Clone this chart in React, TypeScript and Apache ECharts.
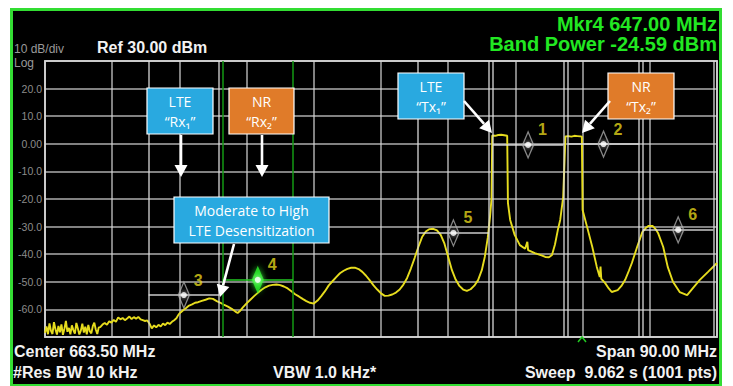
import React, { useEffect, useRef } from 'react';
import * as echarts from 'echarts';

const FREQ_START_MHZ = 618.5;
const FREQ_STOP_MHZ = 708.5;
const REF_LEVEL_DBM = 30;
const BOTTOM_LEVEL_DBM = -70;
const DB_PER_DIV = 10;
const X_DIVS = 10;

// Trace: [frequency MHz, level dBm]
const TRACE: [number, number][] = [
  [618.5, -68.5], [618.7, -66.2], [618.9, -69.0], [619.1, -65.1], [619.3, -67.8], [619.5, -68.9],
  [619.7, -64.6], [619.9, -67.2], [620.1, -69.1], [620.3, -66.0], [620.5, -68.3], [620.7, -65.4],
  [620.9, -69.2], [621.1, -67.0], [621.3, -64.2], [621.5, -68.1], [621.7, -66.7], [621.9, -69.0],
  [622.1, -65.8], [622.3, -67.5], [622.5, -68.8], [622.7, -64.9], [622.9, -66.9], [623.1, -69.1],
  [623.3, -67.7], [623.5, -65.2], [623.7, -68.4], [623.9, -66.3], [624.1, -69.0], [624.3, -65.6],
  [624.5, -67.9], [624.7, -68.7], [624.9, -66.1], [625.1, -64.8], [625.3, -67.3], [625.5, -68.9],
  [625.7, -66.5], [625.9, -66.4], [626.2, -65.5], [626.5, -64.9], [626.8, -65.6], [627.1, -64.3],
  [627.4, -64.8], [627.7, -63.8], [628.0, -64.5], [628.3, -62.9], [628.6, -63.6], [628.9, -63.1],
  [629.2, -63.9], [629.5, -63.3], [629.8, -62.6], [630.1, -63.5], [630.4, -62.8], [630.7, -63.4],
  [631.0, -62.7], [631.3, -63.6], [631.6, -63.9], [631.9, -64.2], [632.2, -64.0], [632.5, -65.2],
  [632.8, -66.9], [633.1, -65.8], [633.4, -66.5], [633.7, -65.6], [634.0, -66.2], [634.3, -65.1],
  [634.6, -65.7], [634.9, -64.8], [635.2, -65.3], [635.5, -64.5], [635.8, -63.9], [636.1, -63.2],
  [636.4, -61.8], [636.7, -61.0], [637.0, -60.3], [637.4, -59.5], [637.8, -58.6], [638.2, -58.2],
  [638.6, -57.6], [639.0, -57.4], [639.5, -56.9], [640.0, -56.5], [640.5, -56.0], [641.0, -56.2],
  [641.5, -57.0], [642.0, -57.6], [642.5, -58.4], [643.0, -59.0], [643.5, -59.8], [644.0, -60.8],
  [644.3, -61.3], [644.6, -60.6], [645.0, -59.3], [645.5, -57.8], [646.0, -56.5], [646.5, -55.2],
  [647.0, -54.0], [647.5, -52.9], [648.0, -52.0], [648.5, -51.4], [649.0, -51.1], [649.5, -51.0],
  [650.0, -51.2], [650.5, -51.7], [651.0, -52.4], [651.5, -53.4], [652.0, -54.5], [652.5, -55.3],
  [653.0, -56.2], [653.5, -57.0], [654.0, -57.6], [654.5, -57.9], [655.0, -56.8], [655.5, -55.2],
  [656.0, -53.4], [656.5, -51.3], [657.0, -49.8], [657.5, -48.3], [658.0, -46.9], [658.5, -46.0],
  [659.0, -45.3], [659.5, -44.9], [660.0, -44.9], [660.5, -45.4], [661.0, -46.4], [661.5, -47.8],
  [662.0, -49.5], [662.5, -51.3], [663.0, -52.8], [663.5, -54.2], [664.0, -55.1], [664.5, -55.0],
  [665.0, -54.6], [665.5, -53.9], [666.0, -52.8], [666.5, -51.0], [667.0, -48.6], [667.5, -45.2],
  [668.0, -41.4], [668.5, -37.4], [669.0, -33.8], [669.5, -31.8], [670.0, -30.9], [670.5, -30.8],
  [671.0, -31.4], [671.5, -33.0], [672.0, -36.2], [672.5, -41.0], [673.0, -45.8], [673.5, -49.2],
  [674.0, -51.5], [674.5, -52.8], [675.0, -53.3], [675.5, -52.7], [676.0, -51.4], [676.5, -49.4],
  [677.0, -45.8], [677.4, -41.0], [677.8, -34.0], [678.1, -26.5], [678.3, -20.0], [678.4, 3.0],
  [678.8, 2.9], [679.2, 3.2], [679.6, 3.3], [680.0, 3.1], [680.4, 2.9], [680.5, -21.4],
  [680.8, -27.6], [681.4, -33.0], [682.1, -36.7], [682.8, -38.0], [683.1, -35.5], [683.2, -38.5],
  [684.1, -39.6], [685.0, -40.4], [685.5, -41.0], [686.0, -41.1], [686.4, -40.3], [686.8, -36.5],
  [687.2, -31.0], [687.5, -27.6], [687.9, -19.3], [688.2, 2.7], [688.6, 2.8], [689.0, 2.6],
  [689.4, 2.9], [689.8, 2.8], [690.2, 2.7], [690.4, 2.6], [690.5, -24.0], [691.1, -30.1],
  [691.8, -37.4], [692.4, -44.6], [692.8, -48.3], [692.9, -44.5], [693.0, -48.9], [693.5, -50.4],
  [694.0, -52.4], [694.4, -53.7], [695.2, -53.0], [695.7, -51.5], [696.2, -49.3], [696.7, -46.0],
  [697.1, -43.2], [697.8, -37.4], [698.5, -32.0], [699.0, -30.4], [699.3, -29.8], [699.9, -29.8],
  [700.3, -31.0], [700.6, -32.3], [701.3, -37.4], [701.9, -44.6], [702.6, -50.0], [703.5, -53.7],
  [704.5, -54.8], [705.3, -52.2], [706.2, -49.3], [707.3, -46.4], [708.5, -43.2]
];

const MARKER_IDS = ['1', '2', '3', '4', '5', '6'];
const MARKER_MHZ = [683.2, 693.3, 637.1, 647.0, 673.2, 703.3];
const MARKER_DBM = [-0.4, -0.1, -54.8, -49.3, -32.3, -31.2];
const ACTIVE_MARKER = '4';
const BAND_SPAN_MHZ = 9.45;

const INSTR_FONT = '"Liberation Sans Narrow", "Liberation Sans", Arial, sans-serif';
const NOTE_FONT = '"Open Sans", "Noto Sans", sans-serif';

const BLUE = '#29a9e0';
const ORANGE = '#e07b29';

function note(x: number, y: number, w: number, h: number, fill: string, lines: string[], size: number) {
  const els: any[] = [
    { type: 'rect', shape: { x, y, width: w, height: h }, style: { fill, stroke: '#ffffff', lineWidth: 1.2 }, z: 100 },
  ];
  lines.forEach((t, i) => {
    els.push({
      type: 'text', z: 101,
      style: {
        text: t, x: x + w / 2, y: y + 13 + i * 20, fill: '#ffffff',
        align: 'center', verticalAlign: 'middle', font: `${size}px ${NOTE_FONT}`,
      },
    });
  });
  return els;
}

function arrow(x1: number, y1: number, x2: number, y2: number) {
  const dx = x2 - x1, dy = y2 - y1;
  const len = Math.sqrt(dx * dx + dy * dy);
  const ux = dx / len, uy = dy / len;
  const hl = 12, hw = 6.5;
  const bx = x2 - ux * hl, by = y2 - uy * hl;
  const px = -uy * hw, py = ux * hw;
  return [
    { type: 'line', z: 100, shape: { x1, y1, x2: bx, y2: by }, style: { stroke: '#ffffff', lineWidth: 2.6 } },
    { type: 'polygon', z: 100, shape: { points: [[x2, y2], [bx + px, by + py], [bx - px, by - py]] }, style: { fill: '#ffffff' } },
  ];
}

function txt(text: string, x: number, y: number, fill: string, font: string, align = 'left') {
  return { type: 'text', z: 50, style: { text, x, y, fill, font, align, verticalAlign: 'middle' } };
}

export default function App() {
  const ref = useRef<HTMLDivElement>(null);
  useEffect(() => {
    const chart = echarts.init(ref.current!, null, { renderer: 'svg' });
    const half = BAND_SPAN_MHZ / 2;

    const vLines: any[] = [];
    const hLines: any[] = [];
    MARKER_IDS.forEach((id, i) => {
      const active = id === ACTIVE_MARKER;
      const vc = active ? '#139a13' : 'rgba(220,220,220,0.85)';
      const hc = active ? '#22c822' : 'rgba(225,225,225,0.9)';
      vLines.push({ xAxis: MARKER_MHZ[i] - half, lineStyle: { color: vc, width: 1.5, type: 'solid' } });
      vLines.push({ xAxis: MARKER_MHZ[i] + half, lineStyle: { color: vc, width: 1.5, type: 'solid' } });
      hLines.push([
        { coord: [MARKER_MHZ[i] - half, MARKER_DBM[i]], lineStyle: { color: hc, width: 1.5, type: 'solid' } },
        { coord: [MARKER_MHZ[i] + half, MARKER_DBM[i]] },
      ]);
    });

    const diamonds = MARKER_IDS.map((id, i) => {
      const active = id === ACTIVE_MARKER;
      return {
        value: [MARKER_MHZ[i], MARKER_DBM[i]],
        name: id,
        symbolSize: active ? [12, 28] : [11, 26],
        itemStyle: active
          ? { color: '#2cf52c', borderColor: '#2cf52c', borderWidth: 0, shadowBlur: 6, shadowColor: '#2cf52c' }
          : { color: 'rgba(0,0,0,0)', borderColor: '#a8a8a8', borderWidth: 1.5 },
      };
    });

    const option: any = {
      animation: false,
      backgroundColor: 'transparent',
      grid: {
        left: 45, top: 61, width: 672, height: 276, show: true,
        borderColor: '#b8b8b8', borderWidth: 2, backgroundColor: 'transparent',
      },
      xAxis: [
        { type: 'value', min: FREQ_START_MHZ, max: FREQ_STOP_MHZ, show: false, splitLine: { show: false } },
        {
          type: 'value', min: 0, max: X_DIVS, interval: 1, position: 'bottom',
          axisLine: { show: false }, axisTick: { show: false }, axisLabel: { show: false },
          splitLine: { show: true, lineStyle: { color: 'rgba(215,215,215,0.8)', width: 1.5 } },
        },
      ],
      yAxis: {
        type: 'value', min: BOTTOM_LEVEL_DBM, max: REF_LEVEL_DBM, interval: DB_PER_DIV,
        axisLine: { show: false }, axisTick: { show: false },
        splitLine: { show: true, lineStyle: { color: 'rgba(215,215,215,0.8)', width: 1.5 } },
        axisLabel: {
          color: '#8c8c8c', fontSize: 10.5, margin: 3, fontFamily: INSTR_FONT,
          formatter: (v: number) => (v === REF_LEVEL_DBM || v === BOTTOM_LEVEL_DBM ? '' : v === 0 ? '0.00' : v.toFixed(1)),
        },
      },
      series: [
        {
          type: 'line', xAxisIndex: 0, data: [], z: 2, silent: true,
          markLine: { silent: true, symbol: ['none', 'none'], label: { show: false }, data: [...vLines, ...hLines] },
        },
        {
          type: 'line', xAxisIndex: 0, data: TRACE, showSymbol: false, z: 4, silent: true,
          lineStyle: { color: '#e6dc1e', width: 1.9 },
        },
        {
          type: 'scatter', xAxisIndex: 0, symbol: 'diamond', data: diamonds, z: 5, silent: true,
          label: {
            show: true, position: 'right', offset: [-1, -15], formatter: (p: any) => p.name,
            color: '#e4d51a', fontSize: 16, fontWeight: 'bold', fontFamily: INSTR_FONT,
          },
        },
        {
          type: 'scatter', xAxisIndex: 0, symbol: 'circle', symbolSize: 6, z: 6, silent: true,
          data: MARKER_MHZ.map((f, i) => [f, MARKER_DBM[i]]),
          itemStyle: { color: '#ffffff', shadowBlur: 5, shadowColor: '#ffffff' },
        },
      ],
      graphic: [
        txt('Mkr4 647.00 MHz', 717, 24, '#22e822', `bold 20px ${INSTR_FONT}`, 'right'),
        txt('Band Power -24.59 dBm', 717, 44, '#22e822', `bold 20px ${INSTR_FONT}`, 'right'),
        txt('10 dB/div', 14, 48.5, '#9a9a9a', `12px ${INSTR_FONT}`),
        txt('Ref 30.00 dBm', 97, 47, '#f2f2f2', `bold 16px ${INSTR_FONT}`),
        txt('Log', 14, 63, '#9a9a9a', `12px ${INSTR_FONT}`),
        txt('Center 663.50 MHz', 14, 351, '#f2f2f2', `bold 16px ${INSTR_FONT}`),
        txt('Span 90.00 MHz', 717, 351, '#f2f2f2', `bold 16px ${INSTR_FONT}`, 'right'),
        txt('#Res BW 10 kHz', 13, 372, '#f2f2f2', `bold 16px ${INSTR_FONT}`),
        txt('VBW 1.0 kHz*', 273, 372, '#f2f2f2', `bold 16px ${INSTR_FONT}`),
        txt('Sweep  9.062 s (1001 pts)', 717, 372, '#f2f2f2', `bold 16px ${INSTR_FONT}`, 'right'),
        { type: 'polyline', z: 50, shape: { points: [[578, 342], [582, 337], [586, 342]] }, style: { stroke: '#22cc22', lineWidth: 1.5, fill: null } },
        ...note(147, 88, 66, 46, BLUE, ['LTE', '“Rx₁”'], 14),
        ...note(229, 88, 65, 46, ORANGE, ['NR', '“Rx₂”'], 14),
        ...note(174, 197, 155, 46, BLUE, ['Moderate to High', 'LTE Desensitization'], 14),
        ...note(398, 73, 66, 46, BLUE, ['LTE', '“Tx₁”'], 14),
        ...note(608, 73, 66, 46, ORANGE, ['NR', '“Tx₂”'], 14),
        ...arrow(181, 135, 181, 177),
        ...arrow(262, 135, 262, 177),
        ...arrow(234, 244, 220, 297),
        ...arrow(464, 101, 492, 133),
        ...arrow(610, 101, 582, 133),
      ],
    };
    chart.setOption(option);
    return () => chart.dispose();
  }, []);

  return (
    <div style={{ position: 'fixed', left: 0, top: 0, width: 733, height: 386, background: '#ffffff' }}>
      <div
        style={{
          position: 'absolute', left: 10, top: 8, width: 706, height: 373,
          background: '#000000', border: '3px solid #33dd33',
        }}
      />
      <div ref={ref} style={{ position: 'absolute', left: 0, top: 0, width: 733, height: 386 }} />
    </div>
  );
}
